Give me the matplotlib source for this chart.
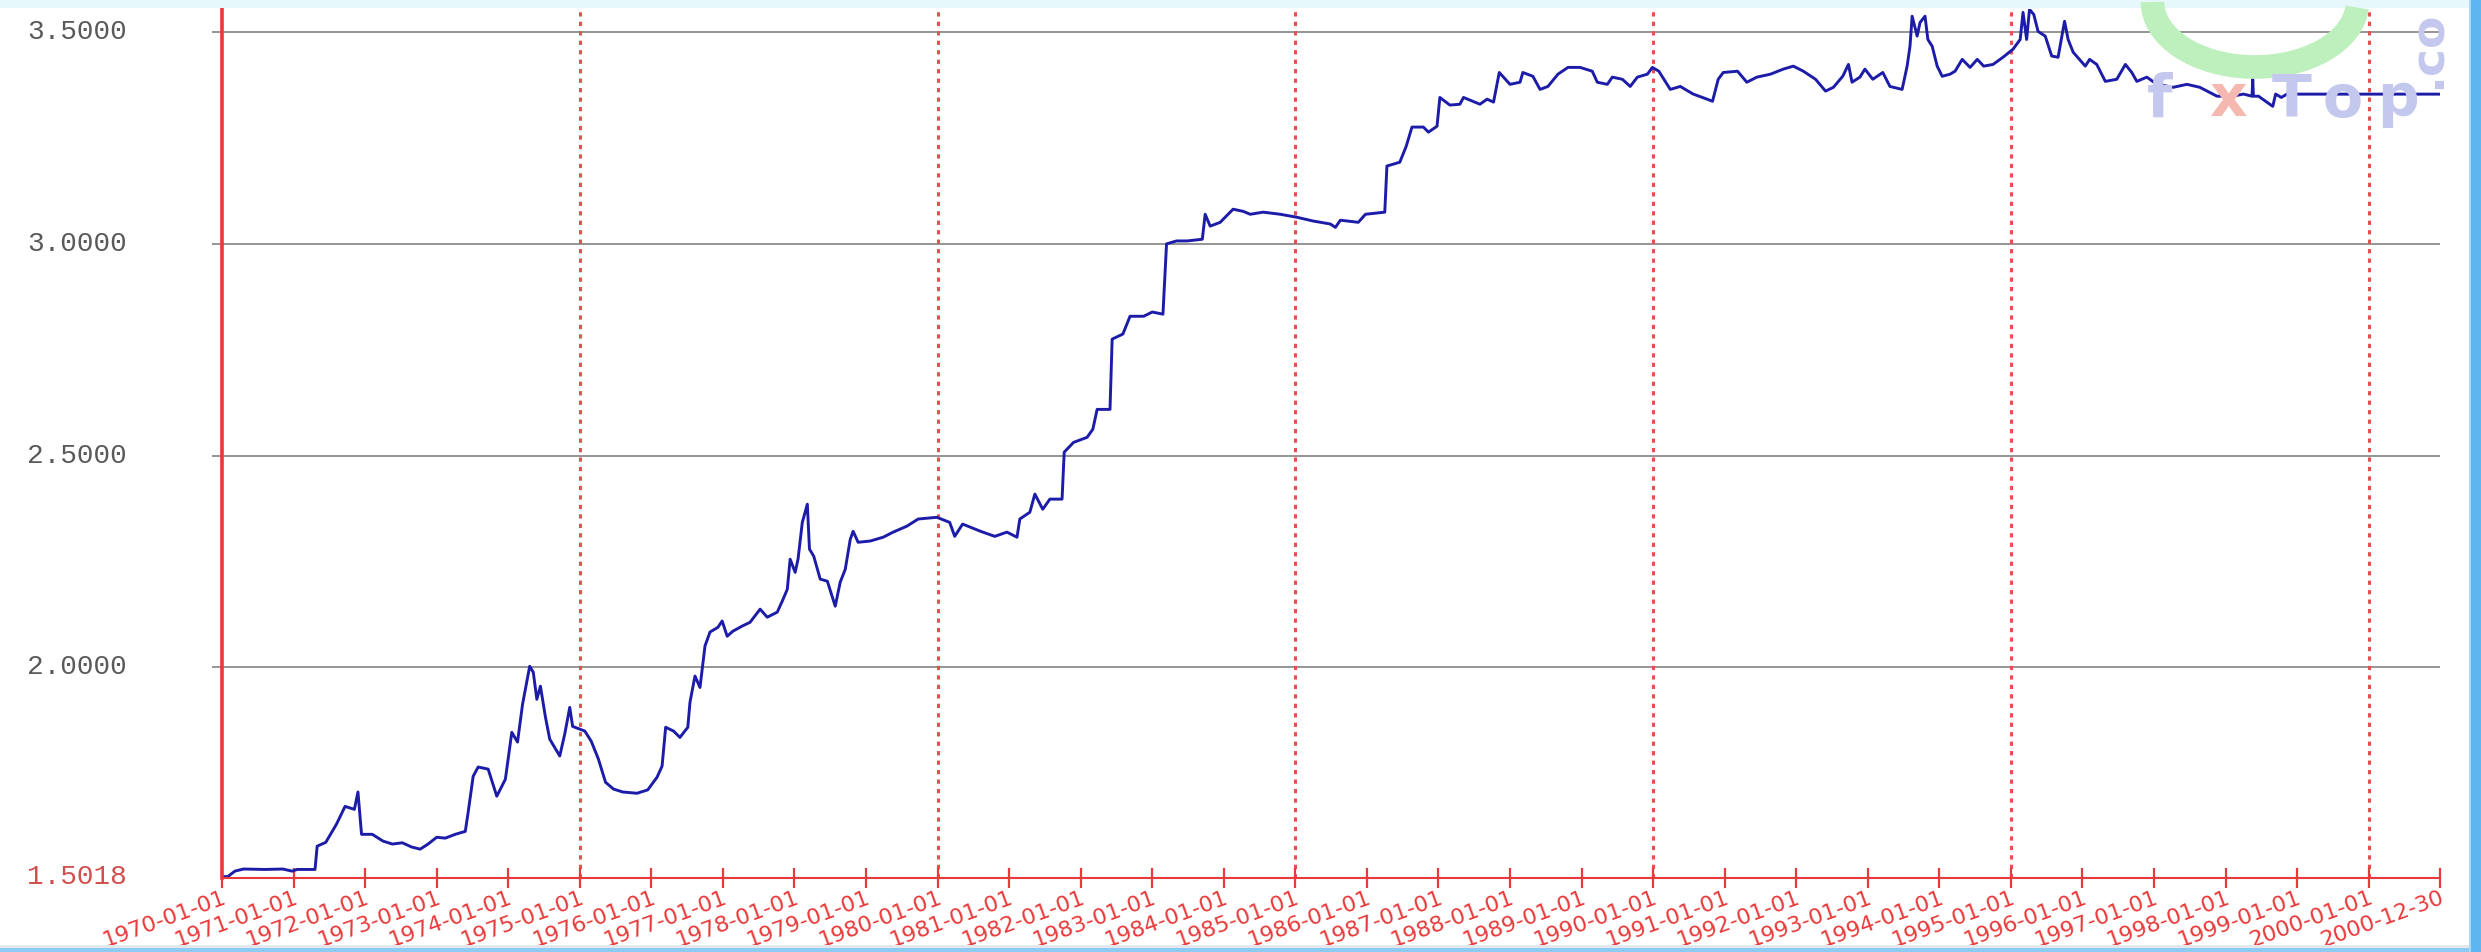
import matplotlib
matplotlib.use("Agg")
import matplotlib.pyplot as plt
from matplotlib.patches import Rectangle, Arc
from matplotlib.transforms import blended_transform_factory

# ---------------- data ----------------
years = [1970.00, 1970.08, 1970.18, 1970.30, 1970.60, 1970.85, 1970.98, 1971.05, 1971.30, 1971.33,
         1971.45, 1971.60, 1971.72, 1971.85, 1971.90, 1971.95, 1972.10, 1972.25, 1972.38, 1972.52,
         1972.65, 1972.77, 1972.88, 1973.00, 1973.12, 1973.26, 1973.40, 1973.44, 1973.51, 1973.58,
         1973.72, 1973.84, 1973.96, 1974.05, 1974.13, 1974.20, 1974.30, 1974.35, 1974.40, 1974.45,
         1974.52, 1974.58, 1974.72, 1974.79, 1974.86, 1974.90, 1975.07, 1975.16, 1975.26, 1975.36,
         1975.47, 1975.60, 1975.80, 1975.95, 1976.08, 1976.15, 1976.20, 1976.31, 1976.40, 1976.51,
         1976.54, 1976.61, 1976.68, 1976.75, 1976.82, 1976.93, 1976.99, 1977.06, 1977.14, 1977.27,
         1977.38, 1977.52, 1977.62, 1977.76, 1977.83, 1977.90, 1977.94, 1978.01, 1978.05, 1978.11,
         1978.18, 1978.21, 1978.27, 1978.36, 1978.46, 1978.57, 1978.64, 1978.71, 1978.78, 1978.82,
         1978.89, 1979.06, 1979.24, 1979.38, 1979.57, 1979.73, 1979.99, 1980.17, 1980.24, 1980.35,
         1980.60, 1980.80, 1980.97, 1981.11, 1981.15, 1981.29, 1981.36, 1981.47, 1981.57, 1981.74,
         1981.77, 1981.90, 1982.09, 1982.17, 1982.23, 1982.41, 1982.44, 1982.59, 1982.69, 1982.88,
         1983.00, 1983.15, 1983.20, 1983.34, 1983.49, 1983.70, 1983.74, 1983.81, 1983.95, 1984.13,
         1984.27, 1984.37, 1984.55, 1984.79, 1985.02, 1985.25, 1985.49, 1985.56, 1985.63, 1985.88,
         1985.98, 1986.25, 1986.28, 1986.46, 1986.55, 1986.63, 1986.79, 1986.86, 1986.98, 1987.02,
         1987.16, 1987.30, 1987.35, 1987.58, 1987.68, 1987.77, 1987.85, 1988.00, 1988.14, 1988.18,
         1988.32, 1988.42, 1988.53, 1988.67, 1988.81, 1988.98, 1989.15, 1989.22, 1989.36, 1989.43,
         1989.57, 1989.68, 1989.78, 1989.92, 1989.99, 1990.08, 1990.24, 1990.38, 1990.56, 1990.69,
         1990.83, 1990.91, 1990.98, 1991.18, 1991.31, 1991.45, 1991.64, 1991.82, 1991.96, 1992.10,
         1992.27, 1992.41, 1992.52, 1992.65, 1992.73, 1992.78, 1992.89, 1992.96, 1993.07, 1993.21,
         1993.31, 1993.48, 1993.55, 1993.59, 1993.62, 1993.69, 1993.73, 1993.80, 1993.84, 1993.90,
         1993.97, 1994.04, 1994.15, 1994.22, 1994.32, 1994.43, 1994.53, 1994.62, 1994.75, 1994.89,
         1995.03, 1995.13, 1995.17, 1995.22, 1995.26, 1995.32, 1995.38, 1995.48, 1995.57, 1995.66,
         1995.75, 1995.80, 1995.87, 1996.04, 1996.10, 1996.20, 1996.32, 1996.48, 1996.60, 1996.69,
         1996.76, 1996.90, 1997.04, 1997.27, 1997.46, 1997.64, 1997.88, 1998.10, 1998.25, 1998.37,
         1998.38, 1998.39, 1998.46, 1998.66, 1998.70, 1998.78, 1998.90, 1999.00, 2000.997]
rates = [1.505, 1.505, 1.518, 1.523, 1.522, 1.523, 1.518, 1.522, 1.522, 1.577,
         1.586, 1.629, 1.671, 1.664, 1.705, 1.605, 1.605, 1.589, 1.582, 1.585,
         1.575, 1.570, 1.582, 1.598, 1.596, 1.605, 1.612, 1.657, 1.742, 1.764,
         1.759, 1.695, 1.735, 1.846, 1.823, 1.912, 2.002, 1.988, 1.924, 1.955,
         1.882, 1.830, 1.790, 1.842, 1.905, 1.860, 1.849, 1.825, 1.783, 1.728,
         1.712, 1.705, 1.702, 1.710, 1.740, 1.766, 1.858, 1.849, 1.834, 1.858,
         1.917, 1.979, 1.952, 2.050, 2.083, 2.094, 2.109, 2.073, 2.085, 2.097,
         2.106, 2.137, 2.118, 2.130, 2.156, 2.184, 2.255, 2.224, 2.255, 2.342,
         2.385, 2.279, 2.262, 2.208, 2.203, 2.144, 2.201, 2.231, 2.302, 2.321,
         2.295, 2.298, 2.307, 2.319, 2.333, 2.350, 2.354, 2.342, 2.309, 2.338,
         2.321, 2.309, 2.319, 2.307, 2.350, 2.366, 2.409, 2.373, 2.397, 2.397,
         2.508, 2.531, 2.543, 2.562, 2.609, 2.609, 2.775, 2.787, 2.829, 2.829,
         2.839, 2.834, 3.000, 3.007, 3.007, 3.011, 3.070, 3.042, 3.051, 3.082,
         3.077, 3.070, 3.075, 3.070, 3.063, 3.054, 3.047, 3.039, 3.056, 3.051,
         3.070, 3.075, 3.184, 3.193, 3.231, 3.276, 3.276, 3.264, 3.278, 3.346,
         3.328, 3.330, 3.346, 3.330, 3.342, 3.335, 3.405, 3.377, 3.382, 3.405,
         3.396, 3.365, 3.372, 3.401, 3.417, 3.417, 3.408, 3.382, 3.377, 3.394,
         3.389, 3.372, 3.394, 3.401, 3.417, 3.408, 3.365, 3.372, 3.354, 3.346,
         3.337, 3.389, 3.405, 3.408, 3.382, 3.394, 3.401, 3.413, 3.420, 3.408,
         3.389, 3.361, 3.370, 3.396, 3.424, 3.382, 3.394, 3.413, 3.389, 3.405,
         3.372, 3.365, 3.420, 3.467, 3.538, 3.491, 3.523, 3.538, 3.483, 3.467,
         3.420, 3.396, 3.401, 3.408, 3.436, 3.417, 3.436, 3.420, 3.424, 3.441,
         3.460, 3.483, 3.547, 3.483, 3.554, 3.542, 3.502, 3.491, 3.444, 3.441,
         3.526, 3.483, 3.453, 3.420, 3.436, 3.424, 3.384, 3.389, 3.424, 3.405,
         3.384, 3.394, 3.377, 3.370, 3.377, 3.370, 3.349, 3.349, 3.354, 3.349,
         3.389, 3.349, 3.349, 3.325, 3.354, 3.346, 3.358, 3.35386, 3.35386]

ytick_values = [2.0, 2.5, 3.0, 3.5]
ytick_labels = ["2.0000", "2.5000", "3.0000", "3.5000"]
y_min_value = 1.5018
y_min_label = "1.5018"
xtick_positions = [1970 + i for i in range(31)] + [2000.997]
xtick_labels = ["%d-01-01" % (1970 + i) for i in range(31)] + ["2000-12-30"]
major_years = [1975, 1980, 1985, 1990, 1995, 2000]

# ---------------- figure ----------------
W, H = 2481, 952
fig = plt.figure(figsize=(W / 100, H / 100), dpi=100)
fig.patch.set_facecolor("white")

# frame strips
fig.patches.append(Rectangle((0, 1 - 8 / H), 1, 8 / H, transform=fig.transFigure,
                             facecolor="#E6F8FC", edgecolor="none", zorder=0))
fig.patches.append(Rectangle((0, 0), 1, 4 / H, transform=fig.transFigure,
                             facecolor="#8CCBF4", edgecolor="none", zorder=0))
fig.patches.append(Rectangle((0, 4 / H), 1, 3 / H, transform=fig.transFigure,
                             facecolor="#E4E8EC", edgecolor="none", zorder=0))
fig.patches.append(Rectangle((1 - 10 / W, 0), 10 / W, 1, transform=fig.transFigure,
                             facecolor="#5DB6F2", edgecolor="none", zorder=0))
fig.patches.append(Rectangle((1 - 12 / W, 0), 2 / W, 1, transform=fig.transFigure,
                             facecolor="#A8DAF8", edgecolor="none", zorder=0))

left, right, top, bottom = 222, 2440, 9, 878
ax = fig.add_axes([left / W, 1 - bottom / H, (right - left) / W, (bottom - top) / H])
ax.set_facecolor("none")

red = "#E83A3A"
ax.set_xlim(1970, 2000.997)
ax.set_ylim(y_min_value, 3.555)

# watermark (figure pixel coords)
def fx(px):
    return px / W
def fy(py):
    return 1 - py / H

arc = Arc((fx(2255), fy(2)), 205 / W, 130 / H, theta1=180, theta2=352,
          transform=fig.transFigure, color="#BDF0BD", lw=17, zorder=0.5)
fig.patches.append(arc)
wm_color = "#C4C7EE"
for ch, px in zip(["f", "x", "T", "o", "p"], [2160, 2228, 2292, 2343, 2398]):
    fig.text(fx(px), fy(100), ch, color=("#F4B8B0" if ch == "x" else wm_color),
             fontsize=42, fontweight="bold", family="DejaVu Sans",
             ha="center", va="center", zorder=0.6)
fig.text(fx(2428), fy(50), ".co", color=wm_color, fontsize=34, fontweight="bold",
         family="DejaVu Sans", rotation=90, ha="center", va="center", zorder=0.6)

# grid
for yv in ytick_values:
    ax.axhline(yv, color="#8C8C8C", lw=1.3, zorder=1)
for xv in major_years:
    ax.axvline(xv, color="#E85050", lw=2.2, linestyle=(0, (1.4, 1.7)), zorder=1)

# series
ax.plot(years, rates, color="#1C1CA8", lw=2.1, zorder=3)

# spines
for s in ["top", "right"]:
    ax.spines[s].set_visible(False)
ax.spines["left"].set_color(red)
ax.spines["left"].set_linewidth(2.6)
ax.spines["bottom"].set_color(red)
ax.spines["bottom"].set_linewidth(1.5)
ax.spines["left"].set_zorder(4)
ax.spines["bottom"].set_zorder(4)

# y ticks
ax.set_yticks(ytick_values)
ax.set_yticklabels([])
ax.tick_params(axis="y", length=7, width=1.3, color="#8C8C8C")
trans = blended_transform_factory(fig.transFigure, ax.transData)
for yv, lab in zip(ytick_values, ytick_labels):
    ax.text(27 / W, yv, lab, transform=trans, ha="left", va="center",
            family="Liberation Mono", fontsize=20, color="#5A5A5A")
ax.text(27 / W, y_min_value + 0.002, y_min_label, transform=trans, ha="left", va="center",
        family="Liberation Mono", fontsize=20, color="#D05050")

# x ticks
ax.set_xticks(xtick_positions)
ax.set_xticklabels(xtick_labels, rotation=20, ha="right", rotation_mode="anchor",
                   family="DejaVu Sans", fontsize=16, color=red)
ax.tick_params(axis="x", direction="inout", length=14, width=1.6, color=red, pad=0)

fig.savefig("out.png", dpi=100, facecolor=fig.get_facecolor())
